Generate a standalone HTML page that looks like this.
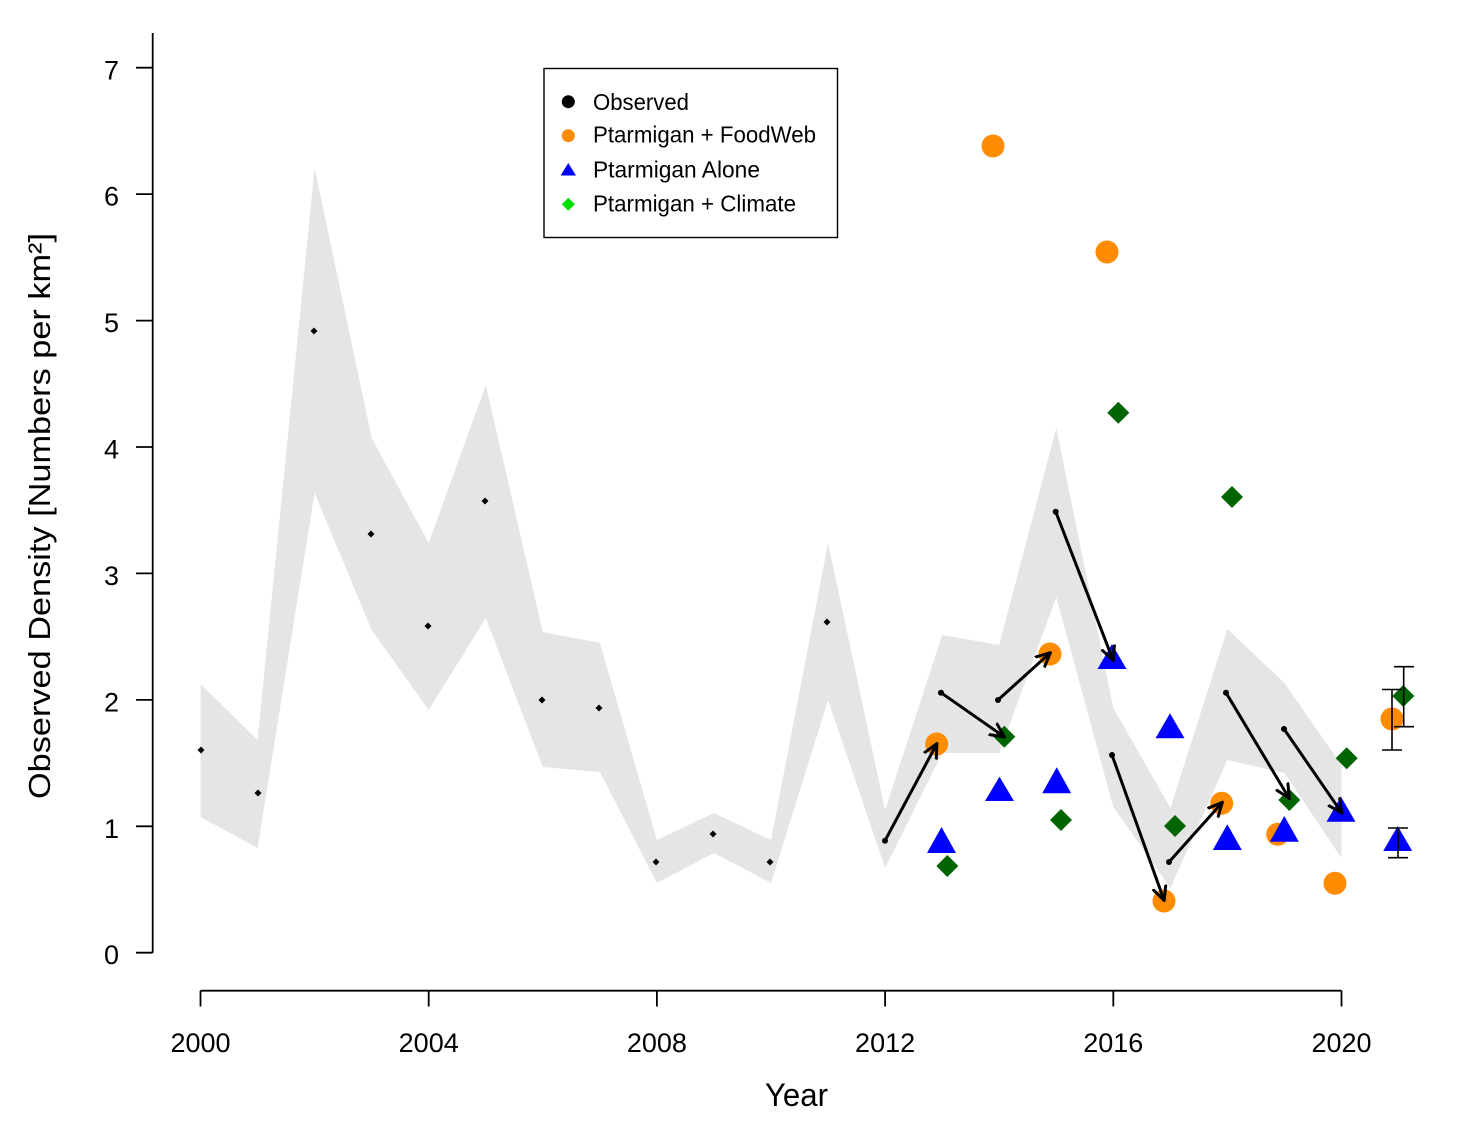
<!DOCTYPE html>
<html>
<head>
<meta charset="utf-8">
<style>
html,body{margin:0;padding:0;background:#fff;}
svg{display:block;}
text{font-family:"Liberation Sans",Arial,sans-serif;fill:#000;}
</style>
</head>
<body>
<svg width="1480" height="1140" viewBox="0 0 1480 1140" xmlns="http://www.w3.org/2000/svg">
<defs>
<marker id="ah" viewBox="0 0 16 16" refX="14" refY="8" markerWidth="16" markerHeight="16" markerUnits="userSpaceOnUse" orient="auto">
<path d="M1,1.5 L14.5,8 L1,14.5" fill="none" stroke="#000" stroke-width="3" stroke-linecap="round" stroke-linejoin="miter"/>
</marker>
</defs>
<rect width="1480" height="1140" fill="#fff"/>

<!-- band -->
<polygon fill="#e5e5e5" points="
200.5,684 257.6,740 314.6,168 371.7,438 428.7,543 485.8,385 542.8,632 599.9,643 656.9,840 714,813 771,840 828.1,543 885.1,810 942.2,635 999.2,645 1056.3,428 1113.3,708 1170.4,808 1227.4,629 1284.5,683 1341.5,765
1341.5,858 1284.5,773 1227.4,760 1170.4,888 1113.3,807 1056.3,597 999.2,753 942.2,753 885.1,868 828.1,700 771,883 714,853 656.9,883 599.9,772 542.8,767 485.8,618 428.7,710 371.7,630 314.6,493 257.6,848 200.5,817"/>

<!-- axes -->
<g stroke="#000" stroke-width="1.8" fill="none">
<line x1="152.7" y1="33" x2="152.7" y2="952.7"/>
<line x1="136" y1="952.7" x2="152.7" y2="952.7"/>
<line x1="136" y1="826.3" x2="152.7" y2="826.3"/>
<line x1="136" y1="699.9" x2="152.7" y2="699.9"/>
<line x1="136" y1="573.4" x2="152.7" y2="573.4"/>
<line x1="136" y1="447" x2="152.7" y2="447"/>
<line x1="136" y1="320.6" x2="152.7" y2="320.6"/>
<line x1="136" y1="194.1" x2="152.7" y2="194.1"/>
<line x1="136" y1="67.7" x2="152.7" y2="67.7"/>
<line x1="200.5" y1="990.7" x2="1341.5" y2="990.7"/>
<line x1="200.5" y1="990.7" x2="200.5" y2="1006.5"/>
<line x1="428.7" y1="990.7" x2="428.7" y2="1006.5"/>
<line x1="656.9" y1="990.7" x2="656.9" y2="1006.5"/>
<line x1="885.1" y1="990.7" x2="885.1" y2="1006.5"/>
<line x1="1113.3" y1="990.7" x2="1113.3" y2="1006.5"/>
<line x1="1341.5" y1="990.7" x2="1341.5" y2="1006.5"/>
</g>

<g font-size="27" text-anchor="end">
<text x="119" y="964">0</text>
<text x="119" y="838">1</text>
<text x="119" y="711.5">2</text>
<text x="119" y="585">3</text>
<text x="119" y="458.5">4</text>
<text x="119" y="332">5</text>
<text x="119" y="205.5">6</text>
<text x="119" y="79.5">7</text>
</g>
<g font-size="27" text-anchor="middle">
<text x="200.5" y="1052">2000</text>
<text x="428.7" y="1052">2004</text>
<text x="656.9" y="1052">2008</text>
<text x="885.1" y="1052">2012</text>
<text x="1113.3" y="1052">2016</text>
<text x="1341.5" y="1052">2020</text>
</g>

<text x="765" y="1106" font-size="32" textLength="63" lengthAdjust="spacingAndGlyphs">Year</text>
<text transform="translate(50,799) rotate(-90)" x="0" y="0" font-size="31" textLength="566" lengthAdjust="spacingAndGlyphs">Observed Density [Numbers per km²]</text>

<!-- observed points -->
<g fill="#000">
<path d="M201,746.5 l3.5,3.5 l-3.5,3.5 l-3.5,-3.5z"/>
<path d="M258,789.5 l3.5,3.5 l-3.5,3.5 l-3.5,-3.5z"/>
<path d="M314,327.5 l3.5,3.5 l-3.5,3.5 l-3.5,-3.5z"/>
<path d="M371,530.5 l3.5,3.5 l-3.5,3.5 l-3.5,-3.5z"/>
<path d="M428,622.5 l3.5,3.5 l-3.5,3.5 l-3.5,-3.5z"/>
<path d="M485,497.5 l3.5,3.5 l-3.5,3.5 l-3.5,-3.5z"/>
<path d="M542,696.5 l3.5,3.5 l-3.5,3.5 l-3.5,-3.5z"/>
<path d="M599,704.5 l3.5,3.5 l-3.5,3.5 l-3.5,-3.5z"/>
<path d="M656,858.5 l3.5,3.5 l-3.5,3.5 l-3.5,-3.5z"/>
<path d="M713,830.5 l3.5,3.5 l-3.5,3.5 l-3.5,-3.5z"/>
<path d="M770,858.5 l3.5,3.5 l-3.5,3.5 l-3.5,-3.5z"/>
<path d="M827,618.5 l3.5,3.5 l-3.5,3.5 l-3.5,-3.5z"/>
</g>

<!-- orange circles -->
<g fill="#ff8c00">
<circle cx="936.7" cy="744" r="11.5"/>
<circle cx="993" cy="146" r="11.5"/>
<circle cx="1050" cy="654" r="11.5"/>
<circle cx="1107" cy="252" r="11.5"/>
<circle cx="1164" cy="901" r="11.5"/>
<circle cx="1221.7" cy="803.3" r="11.5"/>
<circle cx="1277.7" cy="834.3" r="11.5"/>
<circle cx="1335" cy="883.3" r="11.5"/>
<circle cx="1392" cy="719" r="11.5"/>
</g>

<!-- blue triangles -->
<g fill="#0000ff">
<polygon points="941.5,827 956,853 927,853"/>
<polygon points="999.5,776.7 1014,801 985,801"/>
<polygon points="1056.7,767.3 1071.2,793.3 1042.2,793.3"/>
<polygon points="1112,644 1126.5,669 1097.5,669"/>
<polygon points="1170,713.3 1184.5,738.3 1155.5,738.3"/>
<polygon points="1227.3,824.3 1241.8,850 1212.8,850"/>
<polygon points="1284.3,816 1298.8,841.7 1269.8,841.7"/>
<polygon points="1341,796.7 1355.5,821.7 1326.5,821.7"/>
<polygon points="1397.7,826 1412.2,851 1383.2,851"/>
</g>

<!-- green diamonds -->
<g fill="#006400">
<path d="M947.3,855 l11,11 l-11,11 l-11,-11z"/>
<path d="M1004.3,725.7 l11,11 l-11,11 l-11,-11z"/>
<path d="M1061,809 l11,11 l-11,11 l-11,-11z"/>
<path d="M1118.3,401.7 l11,11 l-11,11 l-11,-11z"/>
<path d="M1175,815 l11,11 l-11,11 l-11,-11z"/>
<path d="M1232,486 l11,11 l-11,11 l-11,-11z"/>
<path d="M1289.3,789 l11,11 l-11,11 l-11,-11z"/>
<path d="M1346.7,747.3 l11,11 l-11,11 l-11,-11z"/>
<path d="M1403.3,685 l11,11 l-11,11 l-11,-11z"/>
</g>

<!-- error bars -->
<g stroke="#000" stroke-width="1.6" fill="none">
<line x1="1392" y1="689.5" x2="1392" y2="750"/>
<line x1="1382" y1="689.5" x2="1402" y2="689.5"/>
<line x1="1382" y1="750" x2="1402" y2="750"/>
<line x1="1403.7" y1="666.7" x2="1403.7" y2="726.7"/>
<line x1="1394" y1="666.7" x2="1414" y2="666.7"/>
<line x1="1394" y1="726.7" x2="1414" y2="726.7"/>
<line x1="1398" y1="828" x2="1398" y2="857.7"/>
<line x1="1388" y1="828" x2="1408" y2="828"/>
<line x1="1388" y1="857.7" x2="1408" y2="857.7"/>
</g>

<!-- arrows -->
<g stroke="#000" stroke-width="3" fill="none" marker-end="url(#ah)">
<line x1="885" y1="840.7" x2="936.7" y2="744"/>
<line x1="941" y1="692.7" x2="1004" y2="736.7"/>
<line x1="998" y1="700" x2="1050" y2="653"/>
<line x1="1055.7" y1="511.7" x2="1113" y2="660"/>
<line x1="1112" y1="755" x2="1164" y2="900"/>
<line x1="1169" y1="862" x2="1222" y2="802.7"/>
<line x1="1226" y1="692.7" x2="1289" y2="798"/>
<line x1="1284" y1="729" x2="1341.7" y2="812.7"/>
</g>
<g fill="#000">
<circle cx="885" cy="840.7" r="3"/>
<circle cx="941" cy="692.7" r="3"/>
<circle cx="998" cy="700" r="3"/>
<circle cx="1055.7" cy="511.7" r="3"/>
<circle cx="1112" cy="755" r="3"/>
<circle cx="1169" cy="862" r="3"/>
<circle cx="1226" cy="692.7" r="3"/>
<circle cx="1284" cy="729" r="3"/>
</g>

<!-- legend -->
<rect x="544" y="68.5" width="293.5" height="169" fill="#fff" stroke="#000" stroke-width="1.4"/>
<circle cx="568.3" cy="101.7" r="6.5" fill="#000"/>
<circle cx="568.3" cy="135.7" r="6.5" fill="#ff8c00"/>
<polygon points="568.3,163 576,175.5 560.6,175.5" fill="#0000ff"/>
<path d="M568.3,197.8 l6.5,6.5 l-6.5,6.5 l-6.5,-6.5z" fill="#00e000"/>
<g font-size="23">
<text x="593" y="110" textLength="96" lengthAdjust="spacingAndGlyphs">Observed</text>
<text x="593" y="142.3" textLength="223" lengthAdjust="spacingAndGlyphs">Ptarmigan + FoodWeb</text>
<text x="593" y="177.7" textLength="167" lengthAdjust="spacingAndGlyphs">Ptarmigan Alone</text>
<text x="593" y="211.7" textLength="203" lengthAdjust="spacingAndGlyphs">Ptarmigan + Climate</text>
</g>
</svg>
</body>
</html>
